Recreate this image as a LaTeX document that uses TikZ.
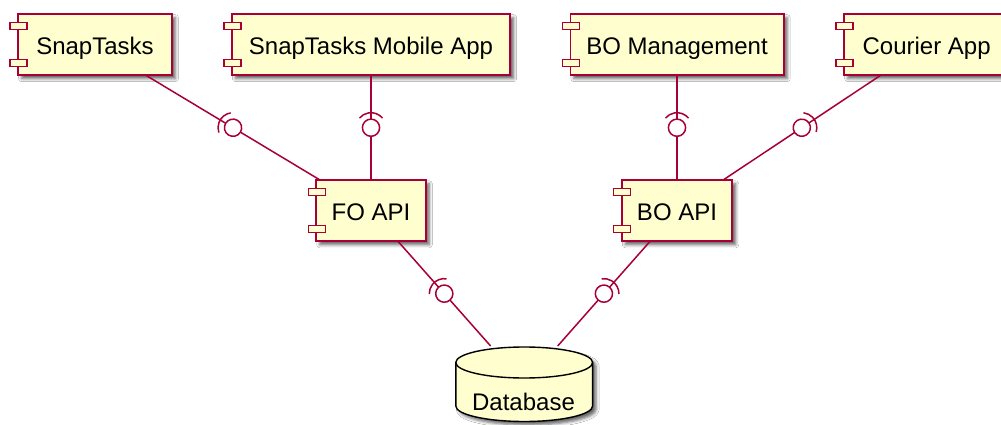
\documentclass[tikz,border=0pt]{standalone}
\usepackage{fontspec}
\setmainfont{Liberation Sans}
\usetikzlibrary{shadows.blur}
\definecolor{compfill}{HTML}{FEFECE}
\definecolor{compline}{HTML}{A80036}
\begin{document}
\begin{tikzpicture}[x=1pt,y=-1pt,
  every node/.style={font=\fontsize{24}{28}\selectfont, text=black},
  softshadow/.style={blur shadow={shadow xshift=3.5pt, shadow yshift=-3.5pt, shadow blur radius=3pt, shadow opacity=60}},
  comp/.style={rectangle, draw=compline, fill=compfill, line width=1.6pt,
    inner sep=0pt, outer sep=0pt, minimum height=61pt,
    text height=22pt, text depth=2.7pt, softshadow},
  port/.style={draw=compline, fill=compfill, line width=1.4pt},
  conn/.style={draw=compline, line width=1.5pt},
  lolli/.pic={
    \draw[draw=compline, line width=1.5pt, fill=white] (0pt,0pt) circle[radius=8.6pt];
    \draw[draw=compline, line width=1.5pt] (130:15pt) arc[start angle=130, end angle=230, radius=15pt];
  }
]
\useasboundingbox (0,0) rectangle (1001,425);
\fill[white] (0,0) rectangle (1001,425);

% components, top row
\node[comp, minimum width=153.8pt] (snap)    at (95,44.65)    {SnapTasks};
\node[comp, minimum width=278.4pt] (mobile)  at (371,44.65)   {SnapTasks Mobile App};
\node[comp, minimum width=213.4pt] (bomgmt)  at (677,44.65)   {BO Management};
\node[comp, minimum width=165pt]   (courier) at (926.65,44.65){Courier App};
% components, middle row
\node[comp, minimum width=109.5pt] (foapi)   at (371,210.75)  {FO API};
\node[comp, minimum width=110.5pt] (boapi)   at (677,210.75)  {BO API};

% the two small ports on each component's left side
\foreach \n in {snap,mobile,bomgmt,courier,foapi,boapi}{
  \draw[port] ([xshift=-8pt,yshift=-8.5pt]\n.north west) rectangle ([xshift=9pt,yshift=-15.5pt]\n.north west);
  \draw[port] ([xshift=-8pt,yshift=8.5pt]\n.south west) rectangle ([xshift=9pt,yshift=15.5pt]\n.south west);
}

% database cylinder
\node[rectangle, inner sep=0pt, outer sep=0pt, minimum width=138pt, minimum height=76pt] (db) at (524.2,384) {};
\path[draw=black, fill=compfill, line width=1.4pt, softshadow]
  (455.8,362.5) -- (455.8,406) arc[start angle=180, end angle=360, x radius=68.4pt, y radius=15.5pt]
  -- (592.6,362.5) arc[start angle=0, end angle=180, x radius=68.4pt, y radius=15.5pt] -- cycle;
\draw[black, line width=1.4pt] (455.8,362.5) arc[start angle=180, end angle=360, x radius=68.4pt, y radius=15.5pt];
\node[anchor=base, inner sep=0pt] (dblabel) at (523.5,410) {Database};

% connectors
\draw[conn] (snap) -- (foapi);
\draw[conn] (mobile) -- (foapi);
\draw[conn] (bomgmt) -- (boapi);
\draw[conn] (courier) -- (boapi);
\draw[conn] (foapi) -- (db);
\draw[conn] (boapi) -- (db);

% provided interface circles with required sockets
\path (snap) -- pic[midway,sloped,allow upside down]{lolli} (foapi);
\path (mobile) -- pic[midway,sloped,allow upside down]{lolli} (foapi);
\path (bomgmt) -- pic[midway,sloped,allow upside down]{lolli} (boapi);
\path (courier) -- pic[midway,sloped,allow upside down]{lolli} (boapi);
\path (foapi) -- pic[midway,sloped,allow upside down]{lolli} (db);
\path (boapi) -- pic[midway,sloped,allow upside down]{lolli} (db);
\end{tikzpicture}
\end{document}
